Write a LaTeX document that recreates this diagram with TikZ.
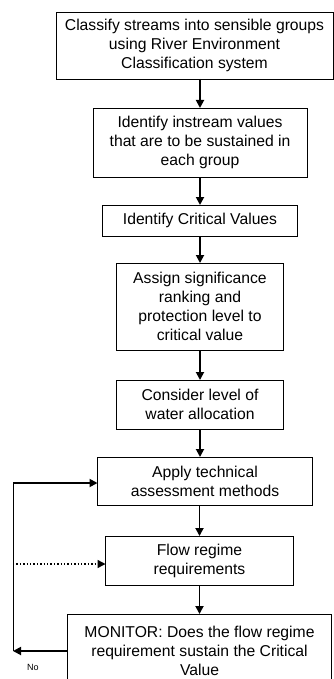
\documentclass[tikz,border=0pt]{standalone}
\usepackage{fontspec}
\setmainfont{Liberation Sans}
\usetikzlibrary{positioning,arrows.meta}

\tikzset{
  stepbox/.style={draw, line width=0.8pt, inner sep=2pt, outer sep=0pt, align=center,
    font=\fontsize{15.7}{19}\selectfont},
  flow/.style={line width=1.8pt, -{Triangle[length=8pt,width=8pt]}},
  loopline/.style={line width=1pt},
}

\begin{document}
\begin{tikzpicture}[x=1pt, y=1pt, node distance=29pt]
  \useasboundingbox (0,0) rectangle (334,-679) ; %

  \node[stepbox, minimum width=277pt, minimum height=67pt] (classify) at (194.5,-45.5)
    {Classify streams into sensible groups\\using River Environment\\Classification system} ; %
  \node[stepbox, minimum width=214pt, minimum height=69pt, below=29pt of classify, xshift=5.5pt] (values)
    {Identify instream values\\that are to be sustained in\\each group} ; %
  \node[stepbox, minimum width=195pt, minimum height=31pt, below=28pt of values] (critical)
    {Identify Critical Values} ; %
  \node[stepbox, minimum width=167pt, minimum height=87pt, below=27pt of critical] (assign)
    {Assign significance\\ranking and\\protection level to\\critical value} ; %
  \node[stepbox, minimum width=167pt, minimum height=49pt, below=30pt of assign] (consider)
    {Consider level of\\water allocation} ; %
  \node[stepbox, minimum width=215pt, minimum height=48pt, below=28pt of consider, xshift=5pt] (apply)
    {Apply technical\\assessment methods} ; %
  \node[stepbox, minimum width=188pt, minimum height=49pt, below=31pt of apply, xshift=-5.5pt] (regime)
    {Flow regime\\requirements} ; %
  \node[stepbox, minimum width=264pt, minimum height=74pt, below=29pt of regime] (monitor)
    {MONITOR: Does the flow regime\\requirement sustain the Critical\\Value} ; %

  \draw[flow] (classify.south -| values) -- (values) ; %
  \draw[flow] (values) -- (critical) ; %
  \draw[flow] (critical) -- (assign) ; %
  \draw[flow] (assign) -- (consider) ; %
  \draw[flow] (consider) -- (consider |- apply.north) ; %
  \draw[flow] (apply.south -| regime) -- (regime) ; %
  \draw[flow] (regime) -- (monitor) ; %

  % feedback loop
  \coordinate (nocorner) at (13,-651) ; %
  \coordinate (topcorner) at (13,-483) ; %
  \coordinate (dotstart) at (13,-564) ; %
  \draw[flow] (monitor.west |- nocorner) -- (nocorner) ; %
  \draw[loopline] (nocorner) -- (topcorner) ; %
  \draw[flow] (topcorner) -- (apply.west |- topcorner) ; %
  \draw[flow, line width=1.4pt, dotted] (dotstart) -- (regime.west |- dotstart) ; %
  \node[font=\fontsize{9}{11}\selectfont] (no) at (33,-667) {No} ; %

\end{tikzpicture}
\end{document}
